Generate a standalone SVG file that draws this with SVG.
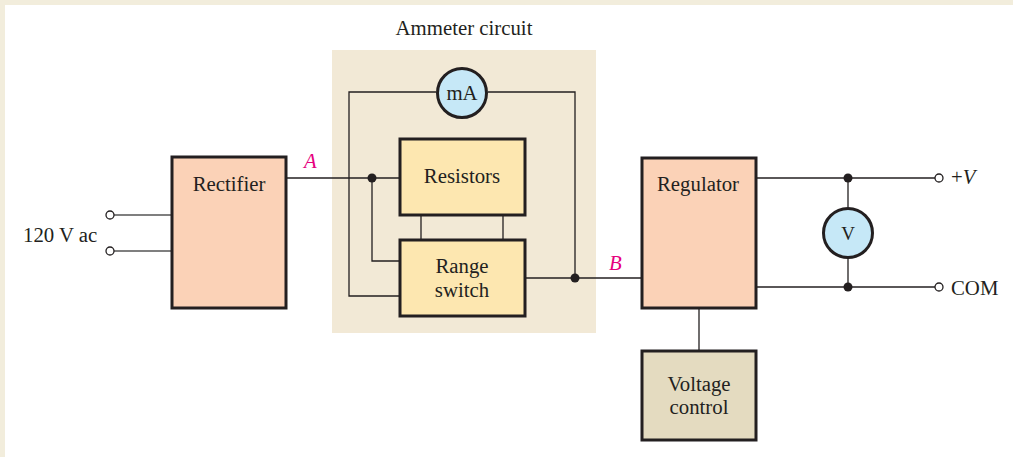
<svg xmlns="http://www.w3.org/2000/svg" width="1013" height="457" viewBox="0 0 1013 457">
<style>
.bg{fill:#ffffff}
.frame{fill:#f2eddc}
.box{stroke:#231f20;stroke-width:3}
.peach{fill:#fbd2b7}
.yel{fill:#fde7b0}
.tan{fill:#e4dbc0}
.meter{fill:#c6e8f7;stroke:#231f20;stroke-width:3}
.w{fill:none;stroke:#231f20;stroke-width:1.3}
.wg{fill:none;stroke:#555;stroke-width:1.6}
.dot{fill:#231f20}
.term{fill:#fff;stroke:#231f20;stroke-width:1.3}
text{font-family:"Liberation Serif","Times New Roman",serif;font-size:20.8px;fill:#231f20}
.c{text-anchor:middle}
.lab{fill:#e6007e;font-style:italic}
</style>
<rect class="frame" x="0" y="0" width="1013" height="457"/>
<rect class="bg" x="5" y="5" width="1008" height="452"/>
<g id="ammeter-bg">
<rect x="332" y="50" width="264" height="283" fill="#f2e9d6"/>
<text class="c" x="464" y="35">Ammeter circuit</text>
</g>
<g id="connectors">
<line class="wg" x1="114" y1="215" x2="171" y2="215"/>
<line class="wg" x1="114" y1="251" x2="171" y2="251"/>
<line class="w" x1="287" y1="178" x2="399" y2="178"/>
<polyline class="w" points="372,178 372,261 399,261"/>
<polyline class="w" points="436,92 349,92 349,296 399,296"/>
<polyline class="w" points="488,92 575,92 575,278"/>
<line class="w" x1="421" y1="216" x2="421" y2="239"/>
<line class="w" x1="503" y1="216" x2="503" y2="239"/>
<line class="w" x1="526" y1="278" x2="641" y2="278"/>
<line class="w" x1="757" y1="178" x2="935" y2="178"/>
<line class="w" x1="757" y1="287" x2="935" y2="287"/>
<line class="w" x1="848" y1="178" x2="848" y2="207"/>
<line class="w" x1="848" y1="259" x2="848" y2="287"/>
<line class="w" x1="699" y1="309" x2="699" y2="350"/>
<circle class="dot" cx="372" cy="178" r="4.5"/>
<circle class="dot" cx="575" cy="278" r="4.5"/>
<circle class="dot" cx="848" cy="178" r="4.5"/>
<circle class="dot" cx="848" cy="287" r="4.5"/>
<circle class="term" cx="110" cy="215" r="4"/>
<circle class="term" cx="110" cy="251" r="4"/>
<circle class="term" cx="939" cy="178" r="4"/>
<circle class="term" cx="939" cy="287" r="4"/>
<text class="lab" x="304" y="168">A</text>
<text class="lab" x="609" y="270">B</text>
</g>
<g id="input">
<text x="23" y="242">120 V ac</text>
</g>
<g id="rectifier">
<rect class="box peach" x="172" y="157" width="114" height="151"/>
<text class="c" x="229" y="191">Rectifier</text>
</g>
<g id="mA">
<circle class="meter" cx="462" cy="93" r="24.5"/>
<text class="c" x="462" y="100">mA</text>
</g>
<g id="resistors">
<rect class="box yel" x="400" y="139" width="125" height="76"/>
<text class="c" x="462" y="183">Resistors</text>
</g>
<g id="range-switch">
<rect class="box yel" x="400" y="240" width="125" height="76"/>
<text class="c" x="462" y="273">Range</text>
<text class="c" x="462" y="297">switch</text>
</g>
<g id="regulator">
<rect class="box peach" x="642" y="158" width="114" height="150"/>
<text class="c" x="698" y="191">Regulator</text>
</g>
<g id="voltage-control">
<rect class="box tan" x="642" y="351" width="114" height="89"/>
<text class="c" x="699" y="391">Voltage</text>
<text class="c" x="699" y="414">control</text>
</g>
<g id="V">
<circle class="meter" cx="848" cy="233" r="24.5"/>
<text class="c" x="848" y="240" style="font-size:19px">V</text>
</g>
<g id="outputs">
<text x="951" y="184">+<tspan font-style="italic">V</tspan></text>
<text x="951" y="295">COM</text>
</g>
</svg>
